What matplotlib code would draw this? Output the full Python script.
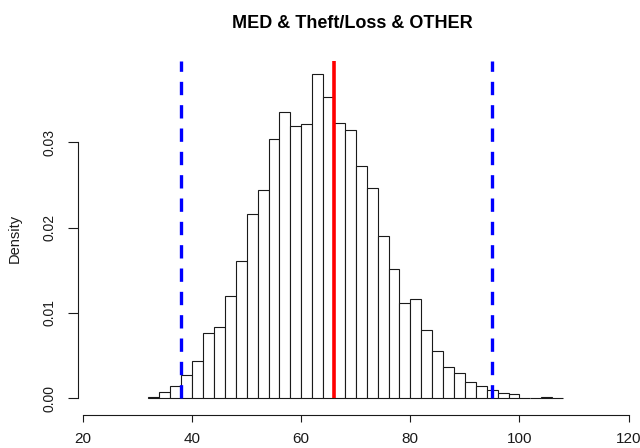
import numpy as np
import matplotlib
matplotlib.use("Agg")
import matplotlib.pyplot as plt

plt.rcParams['font.family'] = ['Liberation Sans', 'DejaVu Sans']

# Histogram bins (width 2) and density per bin
bin_edges = list(range(32, 110, 2))
density = [0.00015, 0.00074, 0.00144, 0.00273, 0.00437, 0.0077, 0.0084, 0.0120,
           0.0161, 0.02157, 0.02442, 0.03043, 0.0336, 0.03192, 0.03219, 0.03798,
           0.03532, 0.03231, 0.03149, 0.0272, 0.02465, 0.01899, 0.01516, 0.01121,
           0.01161, 0.00801, 0.00555, 0.00367, 0.00297, 0.00195, 0.00144, 0.00094,
           0.00066, 0.0005, 0.0, 0.0, 0.0001, 0.0]

center_value = 66
interval = [38, 95]

x_ticks = [20, 40, 60, 80, 100, 120]
y_ticks = [0.00, 0.01, 0.02, 0.03]
y_ticklabels = ["0.00", "0.01", "0.02", "0.03"]
title = "MED & Theft/Loss & OTHER"

fig = plt.figure(figsize=(6.4, 4.48), dpi=100)
ax = fig.add_axes([78 / 640, 33 / 448, 557 / 640, 354 / 448])

ax.bar(bin_edges[:-1], density, width=2, align='edge', facecolor='white',
       edgecolor='#1a1a1a', linewidth=0.8, zorder=2)

ymin, ymax = -0.001958, 0.03954
ax.set_xlim(19.084, 121.17)
ax.set_ylim(ymin, ymax)

ax.plot([center_value, center_value], [0, ymax], color='#ff0000', linewidth=2.6,
        solid_capstyle='butt', zorder=3, clip_on=False)
for v in interval:
    ax.plot([v, v], [0, ymax], color='#0000ff', linewidth=2.4,
            linestyle=(0, (4, 3)), dash_capstyle='butt', zorder=3, clip_on=False)

for s in ['top', 'right']:
    ax.spines[s].set_visible(False)
ax.spines['left'].set_bounds(0, 0.03)
ax.spines['bottom'].set_bounds(20, 120)
for s in ['left', 'bottom']:
    ax.spines[s].set_linewidth(0.8)
    ax.spines[s].set_color('#1a1a1a')

ax.set_xticks(x_ticks)
ax.set_xticklabels([str(t) for t in x_ticks], fontsize=11, color='#1a1a1a')
ax.set_yticks(y_ticks)
ax.set_yticklabels(y_ticklabels, fontsize=10, color='#1a1a1a', rotation=90, va='center')
ax.tick_params(axis='x', length=5, width=0.8, color='#1a1a1a', pad=7)
ax.tick_params(axis='y', length=7, width=0.8, color='#1a1a1a', pad=8.5)

ax.set_ylabel("Density", fontsize=10.5, color='#1a1a1a', labelpad=15)
fig.text(352 / 640, 1 - 24 / 448, title, fontsize=13, fontweight='bold',
         ha='center', va='center', color='black')

fig.savefig("out.png", dpi=100)
